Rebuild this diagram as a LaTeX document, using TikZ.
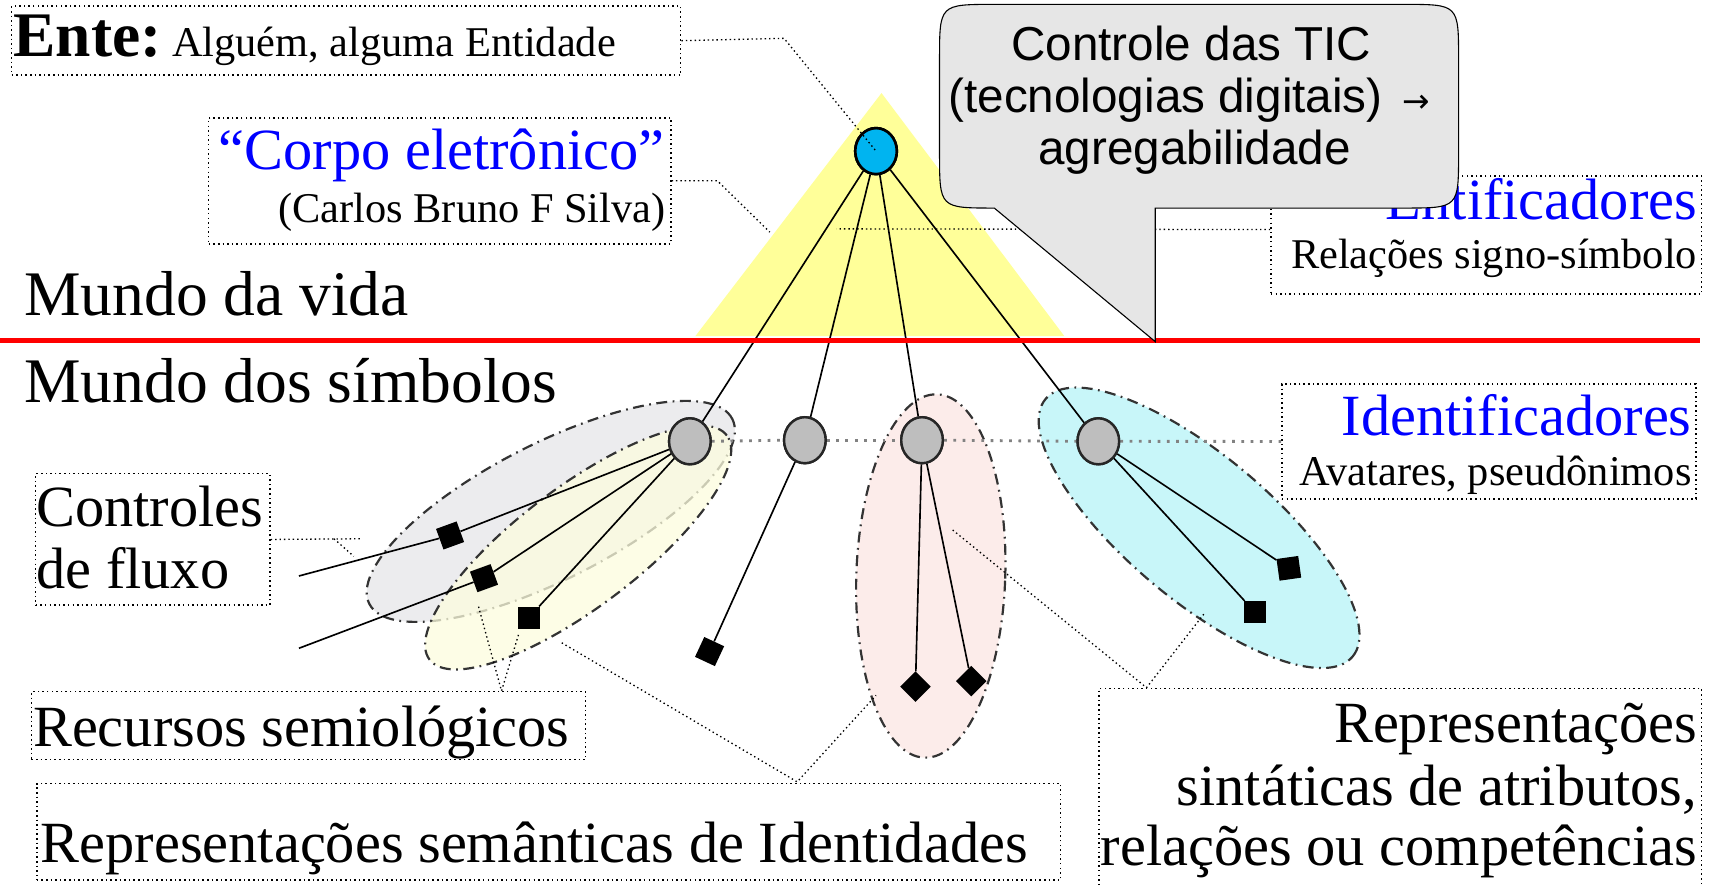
\documentclass[tikz,border=0pt]{standalone}
\usepackage{fontspec}
\setmainfont{Liberation Serif}
\newfontfamily\calloutfont{Liberation Sans}
\newfontfamily\symfont{DejaVu Sans}
\usetikzlibrary{shapes.geometric}
\newcommand\setfs[1]{\fontsize{#1pt}{#1pt}\selectfont}
\definecolor{triyellow}{RGB}{255,255,153}
\definecolor{entblue}{RGB}{0,180,240}
\definecolor{nodegray}{RGB}{190,190,190}
\definecolor{grpgray}{RGB}{236,236,238}
\definecolor{grpyellow}{RGB}{253,253,222}
\definecolor{grppink}{RGB}{252,236,234}
\definecolor{grpcyan}{RGB}{200,246,249}
\definecolor{bubble}{RGB}{230,230,230}
\definecolor{dotgray}{RGB}{130,130,130}
\begin{document}
\begin{tikzpicture}[x=1pt,y=-1pt,
  dotbox/.style={draw, dash pattern=on 1.4pt off 2.8pt, line width=1.3pt, inner sep=0, anchor=north west},
  conn/.style={draw, dash pattern=on 1.3pt off 2.7pt, line width=1.2pt},
  graydot/.style={draw=dotgray, dash pattern=on 2.5pt off 6pt, line width=2.6pt},
  link/.style={draw, line width=1.5pt},
  gnode/.style={ellipse, draw=black!85, line width=2.2pt, fill=nodegray, minimum width=38pt, minimum height=42pt, inner sep=0},
  bnode/.style={ellipse, draw=black, line width=2.4pt, fill=entblue, minimum width=38pt, minimum height=42pt, inner sep=0},
  sqnode/.style={fill=black, minimum size=20pt, inner sep=0},
  dmnode/.style={diamond, fill=black, minimum size=28pt, inner sep=0},
  grp/.style={ellipse, draw=black!80, line width=2pt, dash pattern=on 10pt off 5pt on 1.6pt off 5pt, inner sep=0},
  txt/.style={inner sep=0, text=black},
  big/.style={font=\setfs{58}},
  mid/.style={font=\setfs{53.3}},
  small/.style={font=\setfs{38.7}},
  bluetxt/.style={inner sep=0, text=blue}
]
\useasboundingbox (0,0) rectangle (1568,808);
\fill[white] (0,0) rectangle (1568,808);

% yellow triangle
\fill[triyellow] (805,85) -- (635,307) -- (972,307) -- cycle;

% boxes
\node[dotbox, minimum width=611pt, minimum height=63pt] (ente) at (10,5) {};
\node[dotbox, minimum width=422pt, minimum height=115pt] (corpo) at (190,107) {};
\node[dotbox, minimum width=393pt, minimum height=108pt] (entif) at (1160,160) {};
\node[dotbox, minimum width=378pt, minimum height=105pt] (ident) at (1170,350) {};
\node[dotbox, minimum width=214pt, minimum height=120pt] (ctrl) at (32,432) {};
\node[dotbox, minimum width=506pt, minimum height=62pt] (recur) at (28,631) {};
\node[dotbox, minimum width=935pt, minimum height=88pt] (seman) at (33,715) {};
\node[dotbox, minimum width=550pt, minimum height=200pt] (sintat) at (1003,628) {};

% blue entity node
\node[bnode] (ente0) at (800,138) {};

% Entificadores dotted line
\coordinate (entL) at (764,209);
\draw[conn] ([yshift=5pt]entif.west) -- (entL);

% group ellipses
\node[grp, fill=grpgray, minimum width=372pt, minimum height=124pt, rotate=27] (egray) at (503,467) {};
\node[grp, fill=grpyellow, fill opacity=.75, minimum width=340pt, minimum height=110pt, rotate=37] (eyel) at (528,500) {};
\node[grp, fill=grppink, minimum width=136pt, minimum height=332pt, rotate=-2] (epink) at (850,526) {};
\node[grp, fill=grpcyan, minimum width=366pt, minimum height=132pt, rotate=-40] (ecyan) at (1095,482) {};

% identifier nodes
\node[gnode] (g1) at (630,403) {};
\node[gnode] (g2) at (735,402) {};
\node[gnode] (g3) at (842,402) {};
\node[gnode] (g4) at (1003,403) {};

\draw[graydot] (g1.east) -- (g2.west);
\draw[graydot] (g2.east) -- (g3.west);
\draw[graydot] (g3.east) -- (g4.west);
\draw[graydot] (g4.east) -- (ident.west);

% leaves
\node[sqnode, rotate=20] (s1) at (411,489) {};
\node[sqnode, rotate=20] (s2) at (442,528) {};
\node[sqnode] (s3) at (483,564) {};
\node[sqnode, rotate=-25] (s4) at (648,595) {};
\node[dmnode] (d1) at (836,627) {};
\node[dmnode] (d2) at (887,622) {};
\node[sqnode, rotate=8] (s5) at (1177,519) {};
\node[sqnode] (s6) at (1146,559) {};

\coordinate (l1) at (273,526);
\coordinate (l2) at (273,592);

% links
\draw[link] (ente0) -- (g1);
\draw[link] (ente0) -- (g2);
\draw[link] (ente0) -- (g3);
\draw[link] (ente0) -- (g4);
\draw[link] (g1) -- (s1);
\draw[link] (g1) -- (s2);
\draw[link] (g1) -- (s3);
\draw[link] (s1) -- (l1);
\draw[link] (s2) -- (l2);
\draw[link] (g2) -- (s4);
\draw[link] (g3) -- (d1);
\draw[link] (g3) -- (d2);
\draw[link] (g4) -- (s5);
\draw[link] (g4) -- (s6);

% redraw nodes on top of links
\node[gnode] at (630,403) {};
\node[gnode] at (735,402) {};
\node[gnode] at (842,402) {};
\node[gnode] at (1003,403) {};
\node[bnode] at (800,138) {};

% red separator
\draw[red, line width=5pt] (0,311) -- (1552,311);

% texts
\node[txt, big, anchor=base west] (mv) at (22,288) {Mundo da vida};
\node[txt, big, anchor=base west] (ms) at (22,368) {Mundo dos símbolos};
\node[txt, anchor=base west, font=\bfseries\setfs{58}] (t1) at (12,52) {Ente:};
\node[txt, small, anchor=base west] (t2) at (157,52) {Alguém, alguma Entidade};
\node[bluetxt, mid, anchor=base east] (t3) at (607,155) {“Corpo eletrônico”};
\node[txt, small, anchor=base east] (t4) at (608,203) {(Carlos Bruno F Silva)};
\node[bluetxt, mid, anchor=base east] (t5) at (1550,200) {Entificadores};
\node[txt, small, anchor=base east] (t6) at (1550,245) {Relações signo-símbolo};
\node[bluetxt, mid, anchor=base east] (t7) at (1545,398) {Identificadores};
\node[txt, small, anchor=base east] (t8) at (1545,443) {Avatares, pseudônimos};
\node[txt, mid, anchor=base west] (t9) at (33,481) {Controles};
\node[txt, mid, anchor=base west] (t10) at (33,537) {de fluxo};
\node[txt, mid, anchor=base west] (t11) at (30,682) {Recursos semiológicos};
\node[txt, mid, anchor=base west] (t12) at (37,788) {Representações semânticas de Identidades};
\node[txt, mid, anchor=base east] (t13) at (1550,678) {Representações};
\node[txt, mid, anchor=base east] (t14) at (1550,736) {sintáticas de atributos,};
\node[txt, mid, anchor=base east] (t15) at (1550,790) {relações ou competências};

% dotted connectors
\coordinate (enteB) at (716,35);
\draw[conn] (ente.east) -- (enteB) -- (ente0.center);
\coordinate (corpoB) at (655,165);
\coordinate (corpoE) at (703,212);
\draw[conn] (corpo.east) -- (corpoB) -- (corpoE);
\coordinate (ctrlE) at (330,492);
\coordinate (ctrlM) at (305,492);
\coordinate (ctrlD) at (323,508);
\draw[conn] (ctrl.east) -- (ctrlE);
\draw[conn] (ctrlM) -- (ctrlD);
\coordinate (recT) at (458,631);
\coordinate (recA) at (437,554);
\coordinate (recB) at (474,578);
\draw[conn] (recA) -- (recT) -- (recB);
\coordinate (semT) at (728,714);
\coordinate (semA) at (513,587);
\coordinate (semB) at (800,635);
\draw[conn] (semA) -- (semT) -- (semB);
\coordinate (sinT) at (1047,628);
\coordinate (sinA) at (870,484);
\coordinate (sinB) at (1100,560);
\draw[conn] (sinA) -- (sinT) -- (sinB);

% callout bubble
\draw[fill=bubble, line width=1pt] (1055,312) -- (908,190)
  .. controls (858,190) .. (858,140) -- (858,54)
  .. controls (858,4) .. (908,4) -- (1282,4)
  .. controls (1332,4) .. (1332,54) -- (1332,140)
  .. controls (1332,190) .. (1282,190) -- (1055,190) -- cycle;
\node[txt, anchor=base, font=\calloutfont\setfs{43.5}] (c1) at (1088,55) {Controle das TIC};
\node[txt, anchor=base west, font=\calloutfont\setfs{43.5}] (c2) at (866,103) {(tecnologias digitais)};
\node[txt, anchor=base west, font=\symfont\setfs{30}] (c2a) at (1281,103) {→};
\node[txt, anchor=base, font=\calloutfont\setfs{43.5}] (c3) at (1091,150) {agregabilidade};
\end{tikzpicture}
\end{document}
